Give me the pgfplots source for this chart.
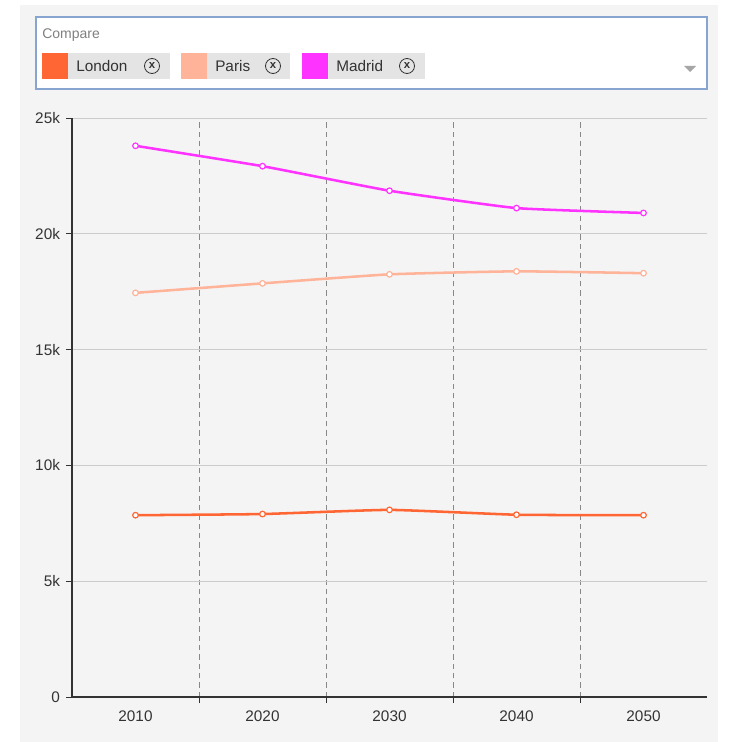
\documentclass[border=0pt]{standalone}
\usepackage{fontspec}
\setmainfont{Liberation Sans}
\usepackage{pgfplots}
\pgfplotsset{compat=1.18}
\definecolor{london}{HTML}{FF6633}
\definecolor{paris}{HTML}{FFB399}
\definecolor{madrid}{HTML}{FF33FF}
\definecolor{panel}{HTML}{F4F4F4}
\definecolor{chip}{HTML}{E4E4E4}
\definecolor{boxb}{HTML}{88A4D0}
\definecolor{axisc}{HTML}{333333}
\definecolor{gridc}{HTML}{CCCCCC}
\definecolor{dashc}{HTML}{888888}
\begin{document}
\begin{tikzpicture}
\path[use as bounding box] (0,0) rectangle (552.75pt,-556.5pt);
\begin{scope}[x=0.75pt,y=-0.75pt]
\fill[panel] (20,5) rectangle (718,742);
\draw[boxb, fill=white, line width=1.5pt] (36,17) rectangle (707,89);
\node[anchor=west, text=gray, font=\fontsize{10.5}{12}\selectfont, inner sep=0pt] at (42,35) {Compare};
% chips
\fill[chip] (42,53) rectangle (170,79);
\fill[london] (42,53) rectangle (68,79);
\node[anchor=west, text=axisc, font=\fontsize{11.5}{13}\selectfont, inner sep=0pt] at (76,66) {London};
\draw[axisc, line width=0.6pt] (152,66) circle (7.5);
\node[text=axisc, font=\fontsize{8.5}{9}\selectfont\bfseries, inner sep=0pt] at (152,65.5) {x};
\fill[chip] (181,53) rectangle (290,79);
\fill[paris] (181,53) rectangle (207,79);
\node[anchor=west, text=axisc, font=\fontsize{11.5}{13}\selectfont, inner sep=0pt] at (215,66) {Paris};
\draw[axisc, line width=0.6pt] (273,66) circle (7.5);
\node[text=axisc, font=\fontsize{8.5}{9}\selectfont\bfseries, inner sep=0pt] at (273,65.5) {x};
\fill[chip] (302,53) rectangle (425,79);
\fill[madrid] (302,53) rectangle (328,79);
\node[anchor=west, text=axisc, font=\fontsize{11.5}{13}\selectfont, inner sep=0pt] at (336,66) {Madrid};
\draw[axisc, line width=0.6pt] (407,66) circle (7.5);
\node[text=axisc, font=\fontsize{8.5}{9}\selectfont\bfseries, inner sep=0pt] at (407,65.5) {x};
\fill[gray!70] (684,66) -- (696,66) -- (690,72) -- cycle;
\end{scope}
\begin{axis}[
  at={(54pt,-522.75pt)}, anchor=south west,
  scale only axis, width=476.25pt, height=434.25pt,
  xmin=-0.5, xmax=4.5, ymin=0, ymax=25000,
  axis lines*=left,
  axis line style={axisc, line width=0.8pt},
  xtick={0.5,1.5,2.5,3.5}, xticklabels={},
  xmajorgrids, major x grid style={dashc, dash pattern=on 4pt off 3pt, line width=0.6pt},
  extra x ticks={0,1,2,3,4},
  extra x tick labels={2010,2020,2030,2040,2050},
  extra x tick style={major tick length=0pt, grid=none},
  ytick={0,5000,10000,15000,20000,25000},
  yticklabels={0,5k,10k,15k,20k,25k},
  ymajorgrids, major y grid style={gridc, line width=0.6pt},
  tick align=outside, major tick length=4.5pt,
  tick style={axisc, line width=0.6pt},
  scaled y ticks=false,
  ticklabel style={text=axisc, font=\fontsize{11.5}{13}\selectfont},
  xticklabel style={yshift=-7pt},
  yticklabel style={xshift=-1pt},
]
\addplot[london, line width=1.9pt, smooth, tension=0.25, mark=*, mark size=2.1pt, mark options={fill=white, line width=0.9pt}] coordinates {(0,7850) (1,7900) (2,8080) (3,7870) (4,7850)};
\addplot[paris, line width=1.9pt, smooth, tension=0.25, mark=*, mark size=2.1pt, mark options={fill=white, line width=0.9pt}] coordinates {(0,17450) (1,17860) (2,18250) (3,18380) (4,18300)};
\addplot[madrid, line width=1.9pt, smooth, tension=0.25, mark=*, mark size=2.1pt, mark options={fill=white, line width=0.9pt}] coordinates {(0,23800) (1,22920) (2,21860) (3,21110) (4,20900)};
\end{axis}
\end{tikzpicture}
\end{document}
